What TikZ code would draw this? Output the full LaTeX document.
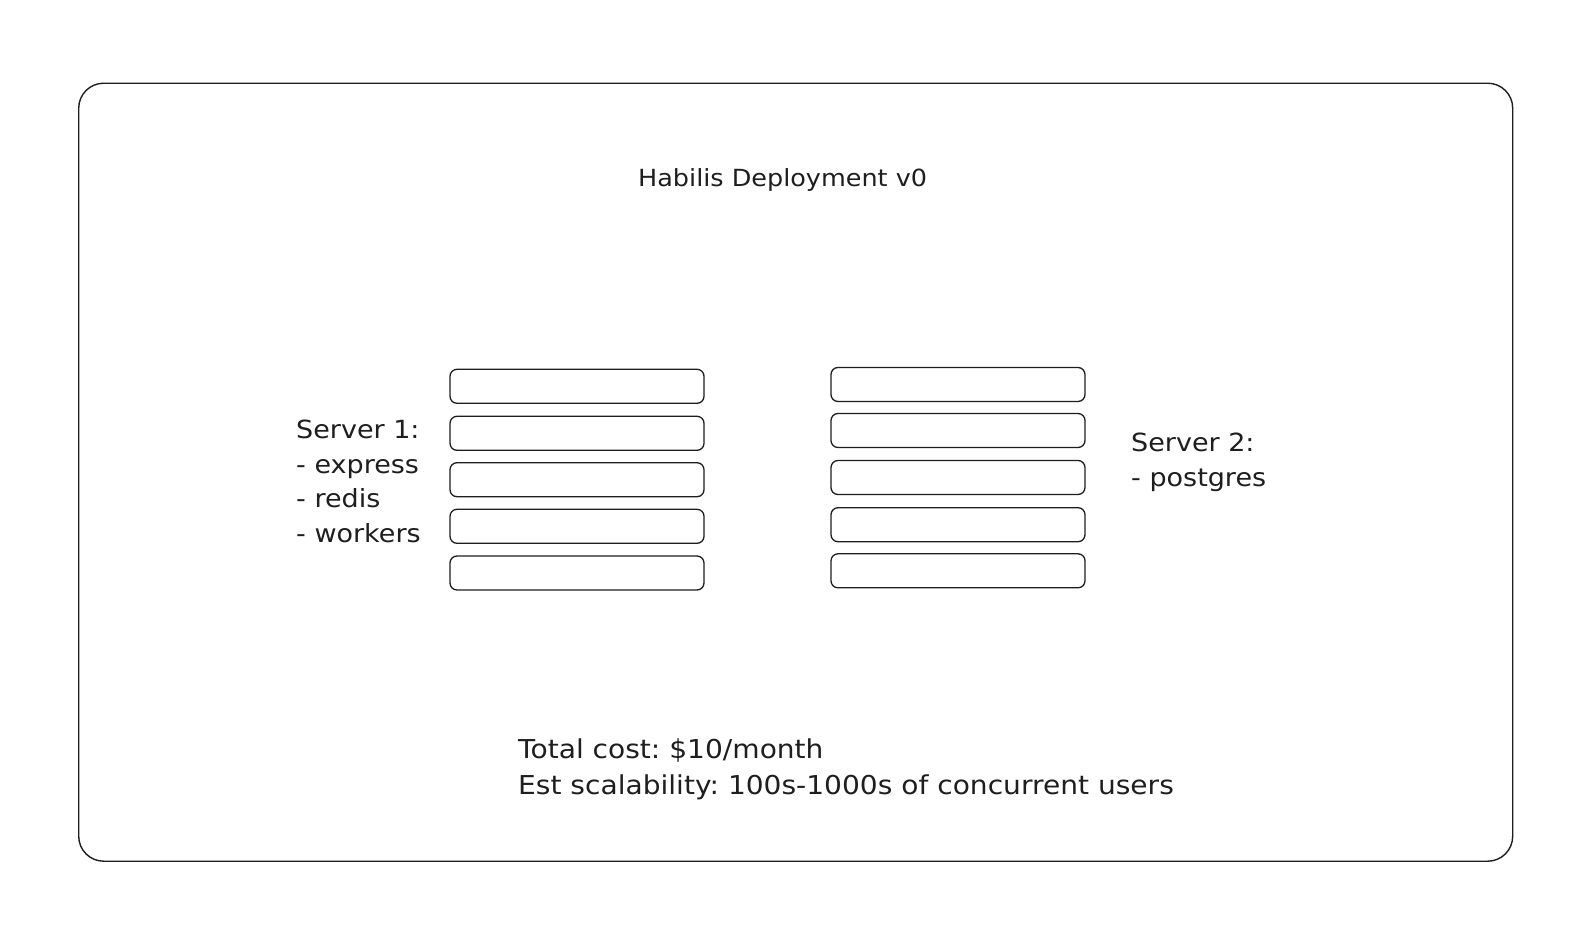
\documentclass[tikz,border=0pt]{standalone}
\usepackage{fontspec}
\setmainfont[FakeStretch=1.08]{DejaVu Sans}
\definecolor{ink}{HTML}{1E1E1E}
\begin{document}
\frenchspacing
\begin{tikzpicture}[x=1pt,y=-1pt,
  frame/.style={draw=ink, line width=1.4pt, rounded corners=25pt, minimum width=1434pt, minimum height=778pt, inner sep=0pt},
  slot/.style={draw=ink, line width=1.3pt, rounded corners=7pt, minimum width=254pt, minimum height=34pt, inner sep=0pt},
  lbl/.style={anchor=base west, inner sep=0pt, text=ink, font=\fontsize{25}{30}\selectfont},
  big/.style={font=\fontsize{26}{31}\selectfont},
  ttl/.style={font=\fontsize{23.6}{28}\selectfont}]
\useasboundingbox[fill=white] (0,0) rectangle (1588,924);
\node[frame] (frame) at (795.7,472.2) {};
% left server column
\node[slot] (a1) at (577,386.3) {};
\node[slot] (a2) at (577,433.3) {};
\node[slot] (a3) at (577,479.7) {};
\node[slot] (a4) at (577,526.3) {};
\node[slot] (a5) at (577,573) {};
% right server column
\node[slot] (b1) at (958,384.5) {};
\node[slot] (b2) at (958,430.5) {};
\node[slot] (b3) at (958,477.5) {};
\node[slot] (b4) at (958,524.7) {};
\node[slot] (b5) at (958,570.8) {};
% texts
\node[lbl,ttl] (title) at (638,186) {Habilis Deployment v0};
\node[lbl] (s1a) at (296,438) {Server 1:};
\node[lbl] (s1b) at (296,473) {- express};
\node[lbl] (s1c) at (296,507.5) {- redis};
\node[lbl] (s1d) at (296,542) {- workers};
\node[lbl] (s2a) at (1131,451) {Server 2:};
\node[lbl] (s2b) at (1131,486) {- postgres};
\node[lbl,big] (c1) at (518,758) {Total cost: \$10/month};
\node[lbl,big] (c2) at (518,794) {Est scalability: 100s-1000s of concurrent users};
\end{tikzpicture}
\end{document}
